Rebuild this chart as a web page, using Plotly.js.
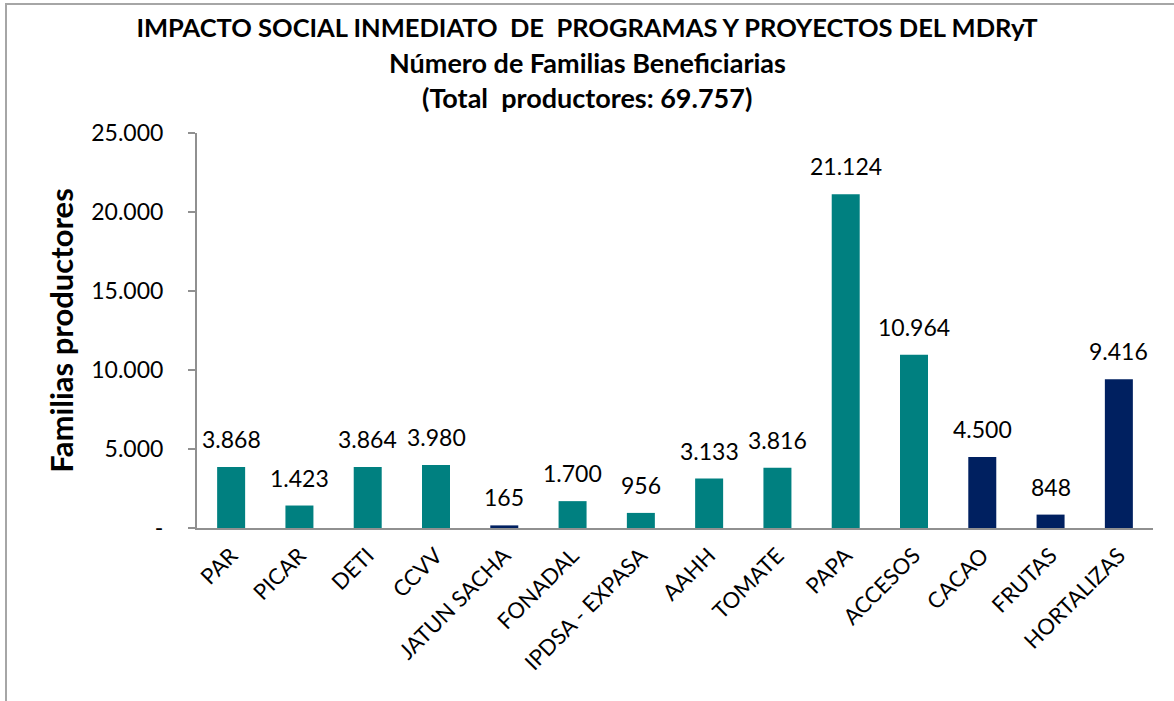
<!DOCTYPE html>
<html>
<head>
<meta charset="utf-8">
<script src="https://cdn.plot.ly/plotly-3.0.1.min.js"></script>
<style>
  html, body { margin: 0; padding: 0; background: #fff; overflow: hidden; }
  #chart { width: 1174px; height: 701px; }
  #frame { position: absolute; left: 5px; top: 3px; width: 1400px; height: 1000px;
           border: 2px solid #a6a6a6; pointer-events: none; box-sizing: border-box; }
</style>
</head>
<body>
<div id="chart"></div>
<div id="frame"></div>
<script>
const categories = ["PAR", "PICAR", "DETI", "CCVV", "JATUN SACHA", "FONADAL", "IPDSA - EXPASA",
                    "AAHH", "TOMATE", "PAPA", "ACCESOS", "CACAO", "FRUTAS", "HORTALIZAS"];
const families = [3868, 1423, 3864, 3980, 165, 1700, 956, 3133, 3816, 21124, 10964, 4500, 848, 9416];
const groups = ["teal", "teal", "teal", "teal", "navy", "teal", "teal",
                "teal", "teal", "teal", "teal", "navy", "navy", "navy"];
const yTickVals = [0, 5000, 10000, 15000, 20000, 25000];
const yTickText = ["-", "5.000", "10.000", "15.000", "20.000", "25.000"];
const titleLines = ["IMPACTO SOCIAL INMEDIATO  DE  PROGRAMAS Y PROYECTOS DEL MDRyT",
                    "Número de Familias Beneficiarias",
                    "(Total  productores: 69.757)"];

const palette = { teal: "#008080", navy: "#002060" };
const FONT = "Lato, 'DejaVu Sans', sans-serif";

function fmt(v) { return String(v).replace(/\B(?=(\d{3})+(?!\d))/g, "."); }
function keepSpaces(s) { return s.replace(/  /g, "\u00A0 "); }

const trace = {
  type: "bar",
  x: categories,
  y: families,
  marker: { color: groups.map(g => palette[g]) },
  hoverinfo: "x+y"
};

const labelAnnotations = categories.map((c, i) => ({
  x: c, y: families[i], xref: "x", yref: "y",
  text: fmt(families[i]), showarrow: false,
  yanchor: "bottom", yshift: 12,
  font: { family: FONT, size: 23, color: "#000" }
}));

const plotW = 1174 - 197 - 21;
const titleAnnotations = [1, 2].map(k => ({
  xref: "paper", yref: "paper", x: (587 - 197) / plotW, y: 1,
  text: "<b>" + keepSpaces(titleLines[k]) + "</b>", showarrow: false,
  xanchor: "center", yanchor: "middle",
  yshift: 133 - (k === 1 ? 62 : 97),
  font: { family: FONT, size: 27, color: "#000" }
}));

const layout = {
  width: 1174, height: 701,
  margin: { l: 197, r: 21, t: 133, b: 173 },
  paper_bgcolor: "rgba(0,0,0,0)",
  plot_bgcolor: "rgba(0,0,0,0)",
  showlegend: false,
  bargap: 0.59,
  title: {
    text: "<b>" + keepSpaces(titleLines[0]) + "</b>",
    x: 0.5, xref: "container", xanchor: "center",
    y: 1 - 28 / 701, yref: "container", yanchor: "middle",
    font: { family: FONT, size: 25.5, color: "#000" }
  },
  xaxis: {
    type: "category",
    tickangle: -45,
    tickfont: { family: FONT, size: 22, color: "#000" },
    ticklabelstandoff: 4,
    showline: true, linecolor: "#909090", linewidth: 2,
    ticks: "", showgrid: false, zeroline: false,
    automargin: false
  },
  yaxis: {
    range: [0, 25000],
    tickvals: yTickVals, ticktext: yTickText,
    tickfont: { family: FONT, size: 23, color: "#000" },
    showline: true, linecolor: "#909090", linewidth: 2,
    ticks: "outside", ticklen: 7, tickcolor: "#909090", tickwidth: 2,
    ticklabelstandoff: 20,
    showgrid: false, zeroline: false,
    automargin: false,
    title: {
      text: "<b>Familias productores</b>",
      font: { family: FONT, size: 31, color: "#000" },
      standoff: 8
    }
  },
  annotations: labelAnnotations.concat(titleAnnotations)
};

Plotly.newPlot("chart", [trace], layout, { displayModeBar: false, staticPlot: true });
</script>
</body>
</html>
